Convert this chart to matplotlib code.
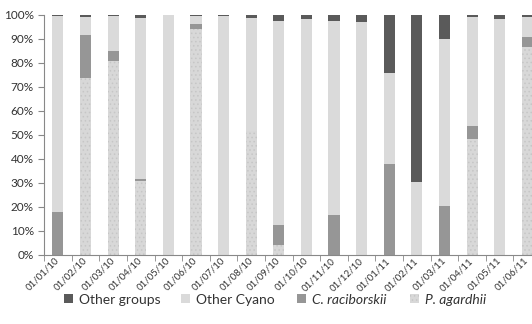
import numpy as np
import matplotlib.pyplot as plt
import matplotlib.transforms as mtransforms
from matplotlib.ticker import PercentFormatter

dates = ['01/01/10', '01/02/10', '01/03/10', '01/04/10', '01/05/10', '01/06/10',
         '01/07/10', '01/08/10', '01/09/10', '01/10/10', '01/11/10', '01/12/10',
         '01/01/11', '01/02/11', '01/03/11', '01/04/11', '01/05/11', '01/06/11']

# percentages, bottom to top
p_agardhii = [0, 73.7, 80.7, 31.0, 0, 94.3, 0, 51.5, 4.2, 0, 0, 0,
              0, 0, 0, 48.4, 0, 86.6]
c_raciborskii = [17.9, 18.1, 4.2, 0.7, 0, 1.8, 0, 0, 8.2, 0, 16.6, 0,
                 37.7, 0, 20.2, 5.3, 0, 4.2]
other_groups = [0.5, 0.7, 0.5, 1.1, 0, 0.3, 0.5, 1.4, 2.6, 1.7, 2.6, 3.1,
                24.3, 69.7, 10.0, 0.7, 1.7, 0.8]
other_cyano = [100 - a - b - c for a, b, c in zip(p_agardhii, c_raciborskii, other_groups)]

plt.rcParams['font.family'] = ['Lato', 'DejaVu Sans']
plt.rcParams['hatch.linewidth'] = 0.6
plt.rcParams['hatch.color'] = '#c6c6c6'

fig = plt.figure(figsize=(5.32, 3.24), dpi=100)
ax = fig.add_axes([0.083, 0.213, 0.934, 0.741])

x = np.arange(len(dates))
w = 0.4
bottom = np.zeros(len(dates))

b1 = ax.bar(x, p_agardhii, w, bottom=bottom, color='#d8d8d8', hatch='....',
            linewidth=0, label='P. agardhii')
bottom += p_agardhii
b2 = ax.bar(x, c_raciborskii, w, bottom=bottom, color='#969696', linewidth=0,
            label='C. raciborskii')
bottom += c_raciborskii
b3 = ax.bar(x, other_cyano, w, bottom=bottom, color='#dadada', linewidth=0,
            label='Other Cyano')
bottom += other_cyano
b4 = ax.bar(x, other_groups, w, bottom=bottom, color='#5a5a5a', linewidth=0,
            label='Other groups')

ax.set_xlim(-0.5, len(dates) - 0.5)
ax.set_ylim(0, 100)
ax.set_yticks(np.arange(0, 101, 10))
ax.yaxis.set_major_formatter(PercentFormatter(decimals=0))
ax.set_xticks(x)
ax.set_xticklabels(dates, rotation=45, ha='right', va='center', rotation_mode='anchor',
                   fontsize=7, color='#333333')
shift = mtransforms.ScaledTranslation(8 / 100, 0, fig.dpi_scale_trans)
for lbl in ax.get_xticklabels():
    lbl.set_transform(lbl.get_transform() + shift)
ax.set_xticks(np.arange(-0.5, len(dates), 1), minor=True)
ax.tick_params(axis='x', which='major', length=0, pad=3)
ax.tick_params(axis='x', which='minor', length=4, color='#888888', direction='out')
ax.tick_params(axis='y', length=4, color='#888888', labelsize=8.5, labelcolor='#333333')

for s in ['top', 'right']:
    ax.spines[s].set_visible(False)
ax.spines['left'].set_color('#888888')
ax.spines['bottom'].set_color('#888888')

# legend entries spaced evenly like the original
handles = [b4, b3, b2, b1]
labels = ['Other groups', 'Other Cyano', 'C. raciborskii', 'P. agardhii']
x_pos = [64, 181, 297, 410]
for h, lab, xp in zip(handles, labels, x_pos):
    leg = fig.legend([h], [lab], loc='center left', bbox_to_anchor=(xp / 532, 0.075),
                     frameon=False, fontsize=10, handlelength=0.65, handleheight=0.65,
                     handletextpad=0.4, borderpad=0, borderaxespad=0, labelcolor='#333333')
    if lab[1] == '.':
        leg.get_texts()[0].set_fontstyle('italic')

fig.savefig('out.png', dpi=100)
